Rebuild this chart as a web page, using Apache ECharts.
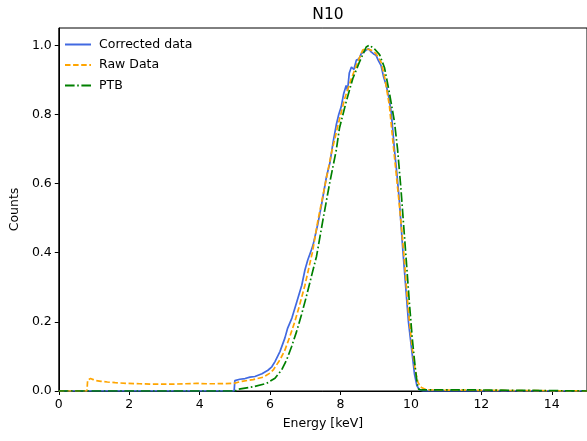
<!DOCTYPE html>
<html>
<head>
<meta charset="utf-8">
<script src="https://cdn.jsdelivr.net/npm/echarts@6/dist/echarts.min.js"></script>
<style>html,body{margin:0;padding:0;background:#fff}#c{width:587px;height:441px}</style>
</head>
<body>
<div id="c"></div>
<script>
const titleText = 'N10';
const xTicks = [0, 2, 4, 6, 8, 10, 12, 14];
const yTicks = [0, 0.2, 0.4, 0.6, 0.8, 1.0];

const correctedE = [0, 4.98, 5.0, 5.14, 5.29, 5.43, 5.57, 5.77, 5.94, 6.05, 6.14, 6.28, 6.42, 6.5, 6.62, 6.76, 6.9, 6.99, 7.07, 7.18, 7.22, 7.35, 7.46, 7.6, 7.7, 7.79, 7.88, 7.95, 8.02, 8.09, 8.16, 8.2, 8.25, 8.31, 8.38, 8.45, 8.52, 8.59, 8.66, 8.73, 8.8, 8.87, 8.94, 9.01, 9.08, 9.15, 9.22, 9.3, 9.37, 9.44, 9.48, 9.53, 9.6, 9.67, 9.77, 9.86, 9.93, 10.02, 10.1, 10.17, 10.25, 10.35, 15];
const correctedC = [0, 0, 0.03, 0.034, 0.036, 0.04, 0.042, 0.05, 0.06, 0.07, 0.085, 0.114, 0.153, 0.182, 0.211, 0.258, 0.306, 0.35, 0.379, 0.41, 0.422, 0.48, 0.538, 0.619, 0.66, 0.72, 0.77, 0.8, 0.822, 0.86, 0.884, 0.87, 0.92, 0.937, 0.93, 0.957, 0.96, 0.976, 0.98, 0.986, 0.99, 0.981, 0.975, 0.971, 0.955, 0.942, 0.91, 0.884, 0.85, 0.807, 0.76, 0.7, 0.63, 0.552, 0.408, 0.29, 0.2, 0.12, 0.05, 0.015, 0.003, 0, 0];

const rawE = [0, 0.8, 0.82, 0.9, 0.98, 1.05, 1.2, 1.38, 1.6, 1.94, 2.3, 2.6, 3.0, 3.25, 3.6, 3.92, 4.2, 4.49, 4.96, 5.0, 5.2, 5.52, 5.81, 6.0, 6.09, 6.28, 6.42, 6.56, 6.7, 6.84, 6.99, 7.13, 7.2, 7.36, 7.55, 7.74, 7.93, 8.12, 8.31, 8.49, 8.63, 8.73, 8.87, 9.01, 9.15, 9.25, 9.39, 9.48, 9.58, 9.67, 9.79, 9.88, 9.95, 10.03, 10.12, 10.2, 10.3, 10.45, 10.5, 15];
const rawC = [0, 0, 0.032, 0.036, 0.033, 0.03, 0.028, 0.026, 0.024, 0.022, 0.021, 0.02, 0.02, 0.02, 0.021, 0.022, 0.021, 0.021, 0.022, 0.025, 0.028, 0.033, 0.04, 0.052, 0.061, 0.09, 0.118, 0.157, 0.2, 0.249, 0.306, 0.369, 0.4, 0.494, 0.59, 0.687, 0.769, 0.846, 0.904, 0.952, 0.986, 0.99, 0.986, 0.976, 0.952, 0.91, 0.825, 0.73, 0.63, 0.54, 0.408, 0.29, 0.21, 0.13, 0.06, 0.025, 0.01, 0.003, 0, 0];

const ptbE = [0, 5.0, 5.1, 5.51, 5.9, 6.14, 6.33, 6.47, 6.61, 6.75, 6.89, 7.03, 7.17, 7.32, 7.5, 7.69, 7.88, 7.97, 8.16, 8.35, 8.54, 8.73, 8.82, 8.96, 9.11, 9.25, 9.39, 9.53, 9.62, 9.72, 9.8, 9.88, 9.96, 10.04, 10.12, 10.18, 10.22, 10.3, 12.0, 12.05, 15];
const ptbC = [0, 0, 0.005, 0.012, 0.022, 0.037, 0.061, 0.09, 0.128, 0.171, 0.22, 0.273, 0.33, 0.39, 0.494, 0.6, 0.697, 0.76, 0.836, 0.904, 0.952, 0.995, 1.0, 0.99, 0.973, 0.935, 0.862, 0.78, 0.7, 0.58, 0.47, 0.36, 0.25, 0.15, 0.07, 0.02, 0.005, 0.003, 0.003, 0, 0];

const zip = (a, b) => a.map((v, i) => [v, b[i]]);
const font = 'DejaVu Sans';
const chart = echarts.init(document.getElementById('c'), null, {renderer: 'canvas'});
chart.setOption({
  animation: false,
  backgroundColor: '#fff',
  title: {
    text: titleText, left: 323, top: 2, textAlign: 'center',
    textStyle: {fontFamily: font, fontSize: 15.5, fontWeight: 'normal', color: '#000'}
  },
  grid: {left: 58, right: -1, top: 28, bottom: 50, show: true, borderColor: '#000', borderWidth: 1, backgroundColor: 'transparent'},
  legend: {
    orient: 'vertical', left: 59, top: 33, itemWidth: 26, itemHeight: 12, itemGap: 7.5,
    itemStyle: {opacity: 0},
    textStyle: {fontFamily: font, fontSize: 12.5, color: '#000', padding: [0, 0, 0, 3]},
    data: ['Corrected data', 'Raw Data', 'PTB']
  },
  xAxis: {
    type: 'value', min: 0, max: 15, interval: 2,
    name: 'Energy [keV]', nameLocation: 'middle', nameGap: 26,
    nameTextStyle: {fontFamily: font, fontSize: 12.5, color: '#000'},
    axisLine: {show: true, lineStyle: {color: '#000', width: 1}},
    axisTick: {show: true, length: 4, lineStyle: {color: '#000'}, customValues: xTicks},
    axisLabel: {fontFamily: font, fontSize: 12.5, color: '#000', margin: 7, customValues: xTicks},
    splitLine: {show: false}
  },
  yAxis: {
    type: 'value', min: 0, max: 1.05, interval: 0.2,
    name: 'Counts', nameLocation: 'middle', nameGap: 35,
    nameTextStyle: {fontFamily: font, fontSize: 12.5, color: '#000'},
    axisLine: {show: true, lineStyle: {color: '#000', width: 1}},
    axisTick: {show: true, length: 4, lineStyle: {color: '#000'}, customValues: yTicks},
    axisLabel: {fontFamily: font, fontSize: 12.5, color: '#000', margin: 7, customValues: yTicks, formatter: v => v.toFixed(1)},
    splitLine: {show: false}
  },
  series: [
    {name: 'Corrected data', type: 'line', data: zip(correctedE, correctedC), symbol: 'none', showSymbol: false,
     lineStyle: {color: '#4169E1', width: 1.7}, itemStyle: {color: '#4169E1'}},
    {name: 'Raw Data', type: 'line', data: zip(rawE, rawC), symbol: 'none', showSymbol: false,
     lineStyle: {color: '#FFA500', width: 1.7, type: [5.5, 2.6]}, itemStyle: {color: '#FFA500'}},
    {name: 'PTB', type: 'line', data: zip(ptbE, ptbC), symbol: 'none', showSymbol: false,
     lineStyle: {color: '#008000', width: 1.7, type: [9.6, 2.6, 1.6, 2.6]}, itemStyle: {color: '#008000'}}
  ]
});
</script>
</body>
</html>
